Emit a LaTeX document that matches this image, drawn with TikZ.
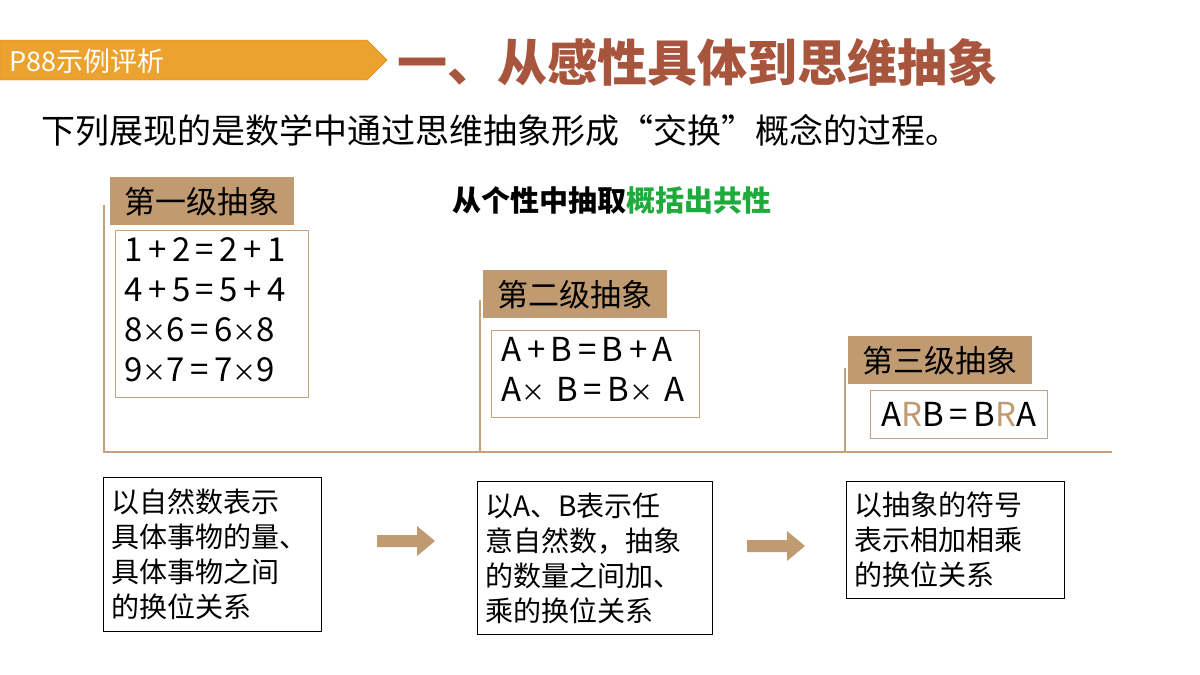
\documentclass[tikz,border=0pt]{standalone}
\usepackage{fontspec}
\setmainfont{Noto Sans CJK SC}
\usetikzlibrary{shapes.arrows}
\definecolor{tan}{HTML}{C09A70}
\definecolor{tanl}{HTML}{C4A27E}
\definecolor{org}{HTML}{EBA22E}
\definecolor{ttl}{HTML}{A8553E}
\definecolor{grn}{HTML}{1FAA3C}
\newcommand{\tms}{{\fontsize{24}{24}\selectfont ×}}
\tikzset{
 lvl/.style={fill=tan,inner sep=0pt,minimum width=184pt,minimum height=48pt,font=\fontsize{31}{31}\selectfont,anchor=north west},
 eqbox/.style={draw=tanl,line width=0.8pt,anchor=north west,inner sep=0pt},
 desc/.style={draw=black,line width=0.8pt,anchor=north west,align=left,inner xsep=8pt,inner ysep=4pt,font=\fontsize{28}{35}\selectfont},
 axis/.style={draw=tanl,line width=1.4pt}
}
\begin{document}
\begin{tikzpicture}[x=1pt,y=-1pt]
\useasboundingbox (0,0) rectangle (1200,675);
\fill[org,draw=orange!80!brown] (0,40) -- (367,40) -- (387,60) -- (367,80) -- (0,80) -- cycle;
\node[anchor=west,text=white,font=\fontsize{27}{27}\selectfont] (tag) at (6,61) {P88示例评析};
\node[anchor=west,text=ttl,font=\fontsize{50}{50}\selectfont\bfseries] (title) at (394,62) {一、从感性具体到思维抽象};
\node[anchor=west,font=\fontsize{34}{34}\selectfont] (sub) at (38,130) {下列展现的是数学中通过思维抽象形成“交换”概念的过程。};
\coordinate (o1) at (104,205); \coordinate (c1) at (104,452);
\coordinate (o2) at (480,300); \coordinate (c2) at (480,452);
\coordinate (o3) at (845,368); \coordinate (c3) at (845,452);
\coordinate (e) at (1112,452);
\draw[axis] (o1) -- (c1) -- (e);
\draw[axis] (o2) -- (c2);
\draw[axis] (o3) -- (c3);
\node[lvl] (l1) at (110,177) {第一级抽象};
\node[lvl] (l2) at (483,270) {第二级抽象};
\node[lvl] (l3) at (848,336) {第三级抽象};
\node[anchor=west,font=\fontsize{29}{29}\selectfont\bfseries] (gen) at (449,201) {从个性中抽取\textcolor{grn}{概括出共性}};
\node[eqbox,minimum width=193pt,minimum height=167pt] (q1) at (115,230) {};
\node[anchor=north west,align=left,font=\fontsize{33}{40}\selectfont] at (121,234) {1\,+\,2\,=\,2\,+\,1\\4\,+\,5\,=\,5\,+\,4\\8\tms6\,=\,6\tms8\\9\tms7\,=\,7\tms9};
\node[eqbox,minimum width=208pt,minimum height=87pt] (q2) at (491,330) {};
\node[anchor=north west,align=left,font=\fontsize{33}{40}\selectfont] at (498,334) {A\,+\,B\,=\,B\,+\,A\\A\tms\,\,B\,=\,B\tms\,\,A};
\node[eqbox,minimum width=177pt,minimum height=48pt,font=\fontsize{33}{33}\selectfont] (q3) at (870,390) {A\textcolor{tan}{R}B\,=\,B\textcolor{tan}{R}A};
\node[desc,text width=202pt,minimum height=154pt] (d1) at (103,477) {以自然数表示\\具体事物的量、\\具体事物之间\\的换位关系};
\node[desc,text width=219pt,minimum height=153pt] (d2) at (477,481) {以A、B表示任\\意自然数，抽象\\的数量之间加、\\乘的换位关系};
\node[desc,text width=202pt,minimum height=117pt] (d3) at (846,481) {以抽象的符号\\表示相加相乘\\的换位关系};
\fill[tan] (377,535) -- (417,535) -- (417,526) -- (435,541) -- (417,556) -- (417,547) -- (377,547) -- cycle;
\fill[tan] (747,540) -- (787,540) -- (787,531) -- (805,546) -- (787,561) -- (787,552) -- (747,552) -- cycle;
\end{tikzpicture}
\end{document}
